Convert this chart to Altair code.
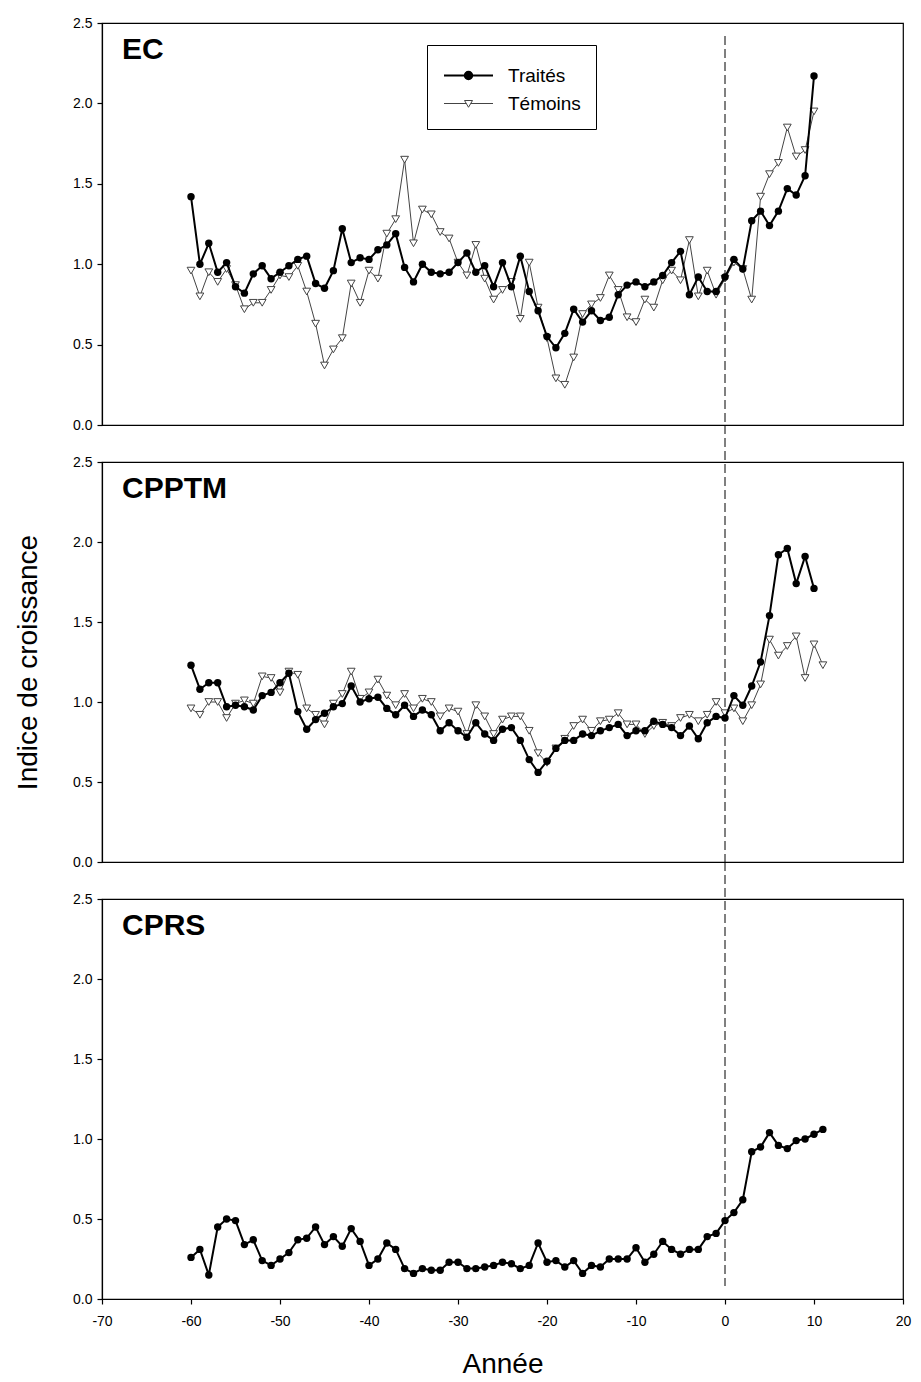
import altair as alt
import pandas as pd

FONT = "Liberation Sans"

years_60_10 = list(range(-60, 11))
years_60_11 = list(range(-60, 12))

ec_traites = [1.42, 1.00, 1.13, 0.95, 1.01, 0.86, 0.82, 0.94, 0.99, 0.91,
              0.95, 0.99, 1.03, 1.05, 0.88, 0.85, 0.96, 1.22, 1.01, 1.04,
              1.03, 1.09, 1.12, 1.19, 0.98, 0.89, 1.00, 0.95, 0.94, 0.95,
              1.01, 1.07, 0.95, 0.99, 0.86, 1.01, 0.86, 1.05, 0.83, 0.71,
              0.55, 0.48, 0.57, 0.72, 0.64, 0.71, 0.65, 0.67, 0.81, 0.87,
              0.89, 0.86, 0.89, 0.93, 1.01, 1.08, 0.81, 0.92, 0.83, 0.83,
              0.92, 1.03, 0.97, 1.27, 1.33, 1.24, 1.33, 1.47, 1.43, 1.55,
              2.17]
ec_temoins = [0.96, 0.80, 0.95, 0.89, 0.97, 0.87, 0.72, 0.76, 0.76, 0.84,
              0.93, 0.92, 0.99, 0.83, 0.63, 0.37, 0.47, 0.54, 0.88, 0.76,
              0.96, 0.91, 1.19, 1.28, 1.65, 1.13, 1.34, 1.31, 1.20, 1.16,
              1.01, 0.93, 1.12, 0.91, 0.78, 0.84, 0.89, 0.66, 1.01, 0.73,
              0.54, 0.29, 0.25, 0.42, 0.69, 0.75, 0.79, 0.93, 0.84, 0.67,
              0.64, 0.78, 0.73, 0.90, 0.96, 0.90, 1.15, 0.80, 0.96, 0.81,
              0.91, 1.01, 0.97, 0.78, 1.42, 1.56, 1.63, 1.85, 1.67, 1.71,
              1.95]
cpptm_traites = [1.23, 1.08, 1.12, 1.12, 0.97, 0.98, 0.97, 0.95, 1.04, 1.06,
                 1.12, 1.18, 0.94, 0.83, 0.89, 0.93, 0.97, 0.99, 1.10, 1.00,
                 1.02, 1.03, 0.96, 0.92, 0.98, 0.91, 0.95, 0.92, 0.82, 0.87,
                 0.82, 0.78, 0.87, 0.80, 0.76, 0.83, 0.84, 0.76, 0.64, 0.56,
                 0.63, 0.71, 0.76, 0.76, 0.80, 0.79, 0.82, 0.84, 0.86, 0.79,
                 0.82, 0.82, 0.88, 0.86, 0.84, 0.79, 0.85, 0.77, 0.87, 0.91,
                 0.90, 1.04, 0.98, 1.10, 1.25, 1.54, 1.92, 1.96, 1.74, 1.91,
                 1.71]
cpptm_temoins = [0.96, 0.92, 1.00, 1.00, 0.90, 0.99, 1.01, 0.99, 1.16, 1.15,
                 1.06, 1.19, 1.17, 0.96, 0.92, 0.86, 0.99, 1.05, 1.19, 1.02,
                 1.06, 1.14, 1.04, 0.98, 1.05, 0.96, 1.02, 1.00, 0.91, 0.96,
                 0.94, 0.80, 0.98, 0.91, 0.80, 0.89, 0.91, 0.91, 0.82, 0.68,
                 0.62, 0.71, 0.77, 0.85, 0.89, 0.82, 0.88, 0.89, 0.93, 0.86,
                 0.86, 0.80, 0.85, 0.87, 0.85, 0.90, 0.92, 0.88, 0.92, 1.00,
                 0.93, 0.96, 0.88, 0.98, 1.11, 1.39, 1.29, 1.35, 1.41, 1.15,
                 1.36, 1.23]
cprs_traites = [0.26, 0.31, 0.15, 0.45, 0.50, 0.49, 0.34, 0.37, 0.24, 0.21,
                0.25, 0.29, 0.37, 0.38, 0.45, 0.34, 0.39, 0.33, 0.44, 0.36,
                0.21, 0.25, 0.35, 0.31, 0.19, 0.16, 0.19, 0.18, 0.18, 0.23,
                0.23, 0.19, 0.19, 0.20, 0.21, 0.23, 0.22, 0.19, 0.21, 0.35,
                0.23, 0.24, 0.20, 0.24, 0.16, 0.21, 0.20, 0.25, 0.25, 0.25,
                0.32, 0.23, 0.28, 0.36, 0.31, 0.28, 0.31, 0.31, 0.39, 0.41,
                0.49, 0.54, 0.62, 0.92, 0.95, 1.04, 0.96, 0.94, 0.99, 1.00,
                1.03, 1.06]

series_names = ["Traités", "Témoins"]
x_ticks = [-70, -60, -50, -40, -30, -20, -10, 0, 10, 20]
y_ticks = [0.0, 0.5, 1.0, 1.5, 2.0, 2.5]
treat_line = [0]

W = 801
TEM_COLOR = "#444444"

# legend symbols: line with marker (unit coords, scale = sqrt(size)/2)
PATH_TRA = ("M-4.9,0H4.9M0.75,0A0.75,0.75 0 1,1 -0.75,0"
            "A0.75,0.75 0 1,1 0.75,0Z")
PATH_TEM = "M-4.9,0H-0.45M0.45,0H4.9M-0.8,-0.6L0.8,-0.6L0,0.75Z"


def make_panel(label, series, height, rule_y1, rule_y2, bottom=False,
               ytitle=False, legend=False):
    rows = []
    for serie, yrs, vals in series:
        for yr, v in zip(yrs, vals):
            rows.append({"year": yr, "value": v, "serie": serie})
    df = pd.DataFrame(rows)

    if bottom:
        xaxis = alt.Axis(values=x_ticks, labelExpr="'' + datum.value",
                         labelFlush=False, title="Année", tickSize=5,
                         labelPadding=10, titlePadding=22)
    else:
        xaxis = None
    X = alt.X("year:Q", scale=alt.Scale(domain=[-70, 20], nice=False,
                                        zero=False), axis=xaxis)
    Y = alt.Y("value:Q", scale=alt.Scale(domain=[0, 2.5], nice=False),
              axis=alt.Axis(values=y_ticks, format=".1f",
                            title="Indice de croissance" if ytitle else None))

    layers = []
    rule = alt.Chart(pd.DataFrame({"year": treat_line})).mark_rule(
        color="black", strokeDash=[9, 4], strokeWidth=1
    ).encode(x=X, y=alt.value(rule_y1), y2=alt.value(rule_y2))
    layers.append(rule)

    base = alt.Chart(df)
    names = [s[0] for s in series]
    if "Témoins" in names:
        tem = base.transform_filter("datum.serie == 'Témoins'")
        layers.append(tem.mark_line(color=TEM_COLOR, strokeWidth=1)
                      .encode(x=X, y=Y))
        layers.append(tem.mark_point(shape="triangle-down", filled=True,
                                     fill="white", stroke=TEM_COLOR,
                                     strokeWidth=1, size=60, opacity=1)
                      .encode(x=X, y=Y))
    tra = base.transform_filter("datum.serie == 'Traités'")
    layers.append(tra.mark_line(color="black", strokeWidth=2)
                  .encode(x=X, y=Y))
    layers.append(tra.mark_point(shape="circle", filled=True, color="black",
                                 size=55, opacity=1)
                  .encode(x=X, y=Y))

    txt = alt.Chart(pd.DataFrame({"t": [label]})).mark_text(
        font=FONT, fontSize=30, fontWeight="bold", align="left",
        baseline="alphabetic", color="black"
    ).encode(x=alt.value(20), y=alt.value(36), text="t:N")
    layers.append(txt)

    if legend:
        leg = alt.Legend(orient="none", legendX=325, legendY=22, title=" ",
                         titleFontSize=6, titlePadding=0, padding=15,
                         strokeColor="black", fillColor="white",
                         labelFont=FONT, labelFontSize=19, labelColor="black",
                         symbolSize=100, symbolOffset=17, labelOffset=30,
                         rowPadding=8)
        legl = base.transform_filter("datum.year > 1000").mark_point(
            filled=True, opacity=1
        ).encode(
            shape=alt.Shape("serie:N", scale=alt.Scale(
                domain=series_names, range=[PATH_TRA, PATH_TEM]), legend=leg),
            fill=alt.Fill("serie:N", scale=alt.Scale(
                domain=series_names, range=["black", "white"]), legend=leg),
            stroke=alt.Stroke("serie:N", scale=alt.Scale(
                domain=series_names, range=["black", TEM_COLOR]), legend=leg),
            strokeWidth=alt.StrokeWidth("serie:N", scale=alt.Scale(
                domain=series_names, range=[2, 1]), legend=leg),
        )
        layers.append(legl)

    return alt.layer(*layers).properties(width=W, height=height)


p1 = make_panel("EC", [("Témoins", years_60_10, ec_temoins),
                       ("Traités", years_60_10, ec_traites)],
                402, 13, 402, legend=True)
p2 = make_panel("CPPTM", [("Témoins", years_60_11, cpptm_temoins),
                          ("Traités", years_60_10, cpptm_traites)],
                400, -37, 400, ytitle=True)
p3 = make_panel("CPRS", [("Traités", years_60_11, cprs_traites)],
                400, -37, 387, bottom=True)

chart = alt.vconcat(p1, p2, p3, spacing=37, bounds="flush").properties(
    padding={"left": 5, "top": 7, "right": 0, "bottom": 5},
    background="white",
).configure_view(
    stroke="black", strokeWidth=1.2
).configure_axis(
    domainColor="black", tickColor="black", labelColor="black",
    titleColor="black", labelFont=FONT, titleFont=FONT, labelFontSize=14,
    titleFontSize=28, titleFontWeight="normal", grid=False, tickSize=5,
    domainWidth=1.2, tickWidth=1.2
).configure_axisY(
    labelPadding=5, titlePadding=30
)

chart.save("out.html", embed_options={"renderer": "svg", "actions": False})
